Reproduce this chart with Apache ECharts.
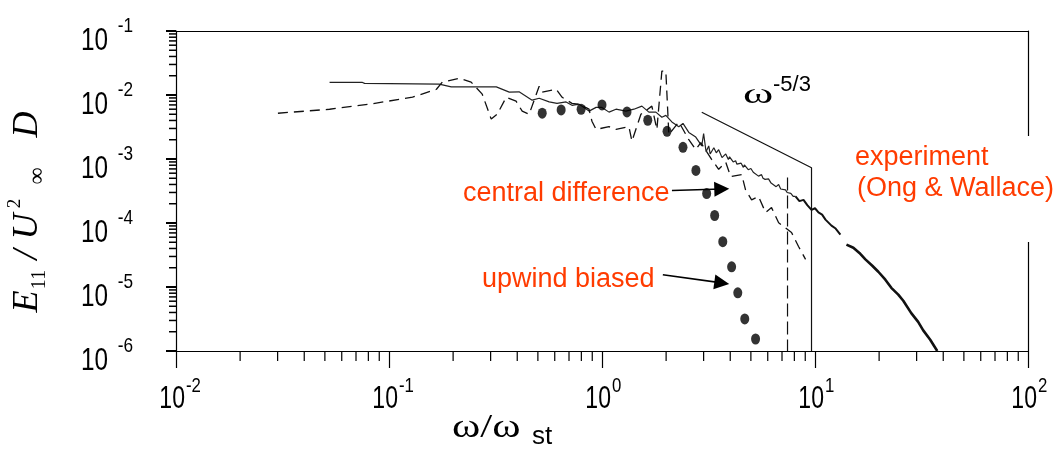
<!DOCTYPE html>
<html><head><meta charset="utf-8">
<script src="https://cdn.jsdelivr.net/npm/echarts@6/dist/echarts.min.js"></script>
<style>html,body{margin:0;padding:0;background:#fff}#c{width:1060px;height:450px}</style>
</head><body><div id="c"></div>
<script>
// ---- axis ranges & ticks ----
const xMin = 1e-2, xMax = 1e2, yMin = 1e-6, yMax = 1e-1;
const minorMultipliers = [2, 3, 4, 5, 6, 7, 8, 9];
const xDecades = [1e-2, 1e-1, 1, 10];
const yDecades = [1e-6, 1e-5, 1e-4, 1e-3, 1e-2];
const xTickVals = [1e-2, 1e-1, 1, 10, 100];
const yTickVals = [1e-6, 1e-5, 1e-4, 1e-3, 1e-2, 1e-1];

// ---- data ----
const simLine = [
  [0.0526, 0.0157], [0.0751, 0.0157], [0.0768, 0.0152], [0.172, 0.0148], [0.196, 0.0134],
  [0.319, 0.0134], [0.367, 0.0111], [0.408, 0.0112], [0.470, 0.0083], [0.507, 0.0089],
  [0.565, 0.0078], [0.615, 0.0074], [0.678, 0.0078], [0.723, 0.0069], [0.780, 0.0072],
  [0.869, 0.0056], [0.938, 0.0064], [1.0, 0.0064], [1.079, 0.0054], [1.163, 0.0060],
  [1.295, 0.0056], [1.412, 0.0060], [1.539, 0.0067], [1.660, 0.0054], [1.790, 0.0054],
  [1.910, 0.0045], [1.994, 0.0048], [2.128, 0.0038], [2.294, 0.0032], [2.40, 0.0036],
  [2.556, 0.0026], [2.755, 0.0022], [2.94, 0.0016], [3.00, 0.0025], [3.08, 0.0013],
  [3.17, 0.0016], [3.22, 0.0012], [3.35, 0.0015], [3.44, 0.00125], [3.53, 0.0014],
  [3.60, 0.0012], [3.66, 0.00105], [3.81, 0.0012], [3.92, 0.00098], [3.97, 0.00108],
  [4.13, 0.00090], [4.24, 0.00094], [4.30, 0.00083], [4.50, 0.00086], [4.61, 0.00074],
  [4.66, 0.00081], [4.86, 0.00068], [5.00, 0.00071], [5.13, 0.00062], [5.20, 0.00066],
  [5.43, 0.00054], [5.61, 0.00057], [5.70, 0.00050], [5.83, 0.00048], [6.05, 0.00049],
  [6.22, 0.00042], [6.30, 0.00045], [6.57, 0.00037], [6.75, 0.00040], [6.90, 0.00034],
  [7.27, 0.00033], [7.40, 0.00030], [7.70, 0.00029], [7.90, 0.00026], [8.10, 0.00026]
];
const expLineA = [
  [8.10, 0.00026], [8.45, 0.00022], [8.83, 0.00023], [9.20, 0.00019], [9.63, 0.00016],
  [10.0, 0.00017], [10.38, 0.000146], [10.8, 0.000135], [11.2, 0.000113], [11.95, 0.000091],
  [12.5, 0.000082], [13.16, 0.000066]
];
const expLineB = [
  [14.05, 4.6e-5], [15.14, 4.1e-5], [16.16, 3.4e-5], [17.24, 2.7e-5], [18.58, 2.15e-5],
  [19.83, 1.73e-5], [21.39, 1.30e-5], [22.82, 9.7e-6], [24.6, 7.6e-6], [25.97, 6.1e-6],
  [28.31, 3.9e-6], [30.5, 2.85e-6], [32.22, 2.1e-6], [34.75, 1.5e-6], [37.5, 1.0e-6]
];
const centralDiff = [
  [0.0301, 0.00519], [0.0526, 0.00599], [0.0811, 0.00718], [0.129, 0.00924], [0.167, 0.0123],
  [0.178, 0.0159], [0.214, 0.0183], [0.243, 0.0159], [0.274, 0.0103], [0.302, 0.0042],
  [0.322, 0.0050], [0.355, 0.0092], [0.395, 0.0080], [0.422, 0.0056], [0.455, 0.0050],
  [0.507, 0.0137], [0.524, 0.0111], [0.609, 0.0123], [0.650, 0.0092], [0.723, 0.0074],
  [0.780, 0.0072], [0.869, 0.0060], [0.897, 0.0039], [0.938, 0.0029], [1.079, 0.0032],
  [1.163, 0.0029], [1.338, 0.0032], [1.382, 0.0019], [1.523, 0.0050], [1.714, 0.0067],
  [1.81, 0.0029], [1.91, 0.0236], [1.994, 0.0236], [2.06, 0.0024], [2.294, 0.0038],
  [2.556, 0.0020], [2.755, 0.0014], [2.91, 0.0018], [3.27, 0.00099], [3.53, 0.00069],
  [3.81, 0.00089], [4.02, 0.00053], [4.53, 0.00057], [4.72, 0.00033], [5.04, 0.00023],
  [5.43, 0.00026], [5.86, 0.000146], [6.25, 0.000174], [6.75, 0.000101], [7.76, 7.1e-5],
  [8.37, 4.3e-5], [9.03, 2.7e-5]
];
const upwindDots = [
  [0.524, 0.00519], [0.643, 0.00584], [0.798, 0.00599], [1.0, 0.0070], [1.31, 0.00543],
  [1.64, 0.00403], [2.02, 0.00271], [2.40, 0.00152], [2.76, 0.000663], [3.10, 0.000289],
  [3.38, 0.000131], [3.69, 5.1e-5], [4.06, 2.07e-5], [4.34, 8.1e-6], [4.68, 3.17e-6],
  [5.26, 1.54e-6]
];
const cutoffDashed = [[7.43, 5.15e-4], [7.43, 1e-6]];
const slopeLine = [[2.94, 5.37e-3], [9.63, 7.3e-4], [9.63, 1e-6]];
const arrowCentral = [[2.13, 3.22e-4], [3.65, 3.4e-4]];
const arrowUpwind = [[1.93, 1.55e-5], [3.65, 1.16e-5]];

const RED = '#ff3b00';
const SANS = "'Liberation Sans', Arial, sans-serif";
const SERIF = "'Liberation Serif', 'Times New Roman', serif";

const xMinor = [], yMinor = [];
xDecades.forEach(d => minorMultipliers.forEach(m => xMinor.push([m * d, yMin])));
yDecades.forEach(d => minorMultipliers.forEach(m => yMinor.push([xMin, m * d])));
const xLabelData = xTickVals.map(v => [v, yMin]);
const yLabelData = yTickVals.map(v => [xMin, v]);
const expOf = v => String(Math.round(Math.log10(v)));

const chart = echarts.init(document.getElementById('c'), null, { renderer: 'canvas' });
const lineBase = { type: 'line', showSymbol: false, symbol: 'none', silent: true, animation: false };
const txt = (x, y, text, font, align, sx, sy) => ({ type: 'text', x, y, scaleX: sx || 1, scaleY: sy || 1,
  style: { text, font, align, verticalAlign: 'middle', fill: '#000' } });

chart.setOption({
  animation: false,
  backgroundColor: '#fff',
  grid: { left: 176, right: 32, top: 31, bottom: 99 },
  xAxis: [{
    type: 'log', logBase: 10, min: xMin, max: xMax,
    axisLine: { lineStyle: { color: '#000', width: 1.2 } },
    axisTick: { show: true, length: 17, lineStyle: { color: '#000', width: 1.2 } },
    splitLine: { show: false }, axisLabel: { show: false }
  }, {
    type: 'log', logBase: 10, min: xMin, max: xMax, position: 'top',
    axisLine: { show: true, onZero: false, lineStyle: { color: '#000', width: 1.2 } },
    axisTick: { show: false }, axisLabel: { show: false }, splitLine: { show: false }
  }],
  yAxis: [{
    type: 'log', logBase: 10, min: yMin, max: yMax,
    axisLine: { show: true, lineStyle: { color: '#000', width: 1.2 } },
    axisTick: { show: true, length: 10, lineStyle: { color: '#000', width: 2 } },
    splitLine: { show: false }, axisLabel: { show: false }
  }, {
    type: 'log', logBase: 10, min: yMin, max: yMax, position: 'right',
    axisLine: { show: true, onZero: false, lineStyle: { color: '#000', width: 1.2 } },
    axisTick: { show: false }, axisLabel: { show: false }, splitLine: { show: false }
  }],
  series: [
    { type: 'custom', data: xMinor, clip: false, silent: true, encode: { x: 0, y: 1 },
      renderItem: (p, api) => { const c = api.coord([api.value(0), api.value(1)]);
        return { type: 'line', shape: { x1: c[0], y1: c[1], x2: c[0], y2: c[1] + 10 }, style: { stroke: '#000', lineWidth: 1.2 } }; } },
    { type: 'custom', data: yMinor, clip: false, silent: true, encode: { x: 0, y: 1 },
      renderItem: (p, api) => { const c = api.coord([api.value(0), api.value(1)]);
        return { type: 'line', shape: { x1: c[0] - 7, y1: c[1], x2: c[0], y2: c[1] }, style: { stroke: '#000', lineWidth: 1.5 } }; } },
    { type: 'custom', data: yLabelData, clip: false, silent: true, encode: { x: 0, y: 1 },
      renderItem: (p, api) => { const c = api.coord([api.value(0), api.value(1)]);
        return { type: 'group', children: [
          txt(c[0] - 68, c[1] + 10, '10', '32px ' + SANS, 'right', 0.76),
          txt(c[0] - 43, c[1] - 5, expOf(api.value(1)), '21px ' + SANS, 'right', 0.82)
        ] }; } },
    { type: 'custom', data: xLabelData, clip: false, silent: true, encode: { x: 0, y: 1 },
      renderItem: (p, api) => { const c = api.coord([api.value(0), api.value(1)]);
        return { type: 'group', children: [
          txt(c[0] + 9, c[1] + 48, '10', '32px ' + SANS, 'right', 0.72),
          txt(c[0] + 10, c[1] + 35, expOf(api.value(0)), '21px ' + SANS, 'left', 0.8)
        ] }; } },
    Object.assign({}, lineBase, { name: 'sim', data: simLine, lineStyle: { color: '#222', width: 1.2 } }),
    Object.assign({}, lineBase, { name: 'expA', data: expLineA, lineStyle: { color: '#111', width: 2 } }),
    Object.assign({}, lineBase, { name: 'expB', data: expLineB, lineStyle: { color: '#111', width: 2.6 } }),
    Object.assign({}, lineBase, { name: 'central difference', data: centralDiff, lineStyle: { color: '#111', width: 1.3, type: [10, 6] } }),
    Object.assign({}, lineBase, { name: 'cutoff', data: cutoffDashed, lineStyle: { color: '#111', width: 1.2, type: [13, 5] } }),
    Object.assign({}, lineBase, { name: 'slope', data: slopeLine, lineStyle: { color: '#111', width: 1.2 } }),
    { type: 'scatter', name: 'upwind biased', data: upwindDots, symbol: 'circle', symbolSize: [9, 11],
      itemStyle: { color: '#000' }, silent: true, z: 5,
      markLine: { silent: true, symbol: ['none', 'triangle'], symbolSize: 15, animation: false,
        label: { show: false }, lineStyle: { color: '#000', width: 1.6, type: 'solid' },
        data: [
          [{ coord: arrowCentral[0] }, { coord: arrowCentral[1] }],
          [{ coord: arrowUpwind[0] }, { coord: arrowUpwind[1] }]
        ] } }
  ],
  graphic: [
    { type: 'rect', z: 100, shape: { x: 1018, y: 136, width: 24, height: 106 }, style: { fill: '#fff' } },
    { type: 'text', z: 101, x: 463, y: 194, style: { text: 'central difference', fill: RED, font: '27px ' + SANS, verticalAlign: 'middle' } },
    { type: 'text', z: 101, x: 482, y: 280, style: { text: 'upwind biased', fill: RED, font: '27px ' + SANS, verticalAlign: 'middle' } },
    { type: 'text', z: 101, x: 855, y: 158, style: { text: 'experiment', fill: RED, font: '27px ' + SANS, verticalAlign: 'middle' } },
    { type: 'text', z: 101, x: 857, y: 189, style: { text: '(Ong & Wallace)', fill: RED, font: '27px ' + SANS, verticalAlign: 'middle' } },
    { type: 'text', z: 101, x: 743, y: 95, scaleY: 0.65, style: { text: 'ω', fill: '#000', font: '46px ' + SERIF, verticalAlign: 'middle' } },
    { type: 'text', z: 101, x: 773, y: 85, style: { text: '-5/3', fill: '#000', font: '22px ' + SANS, verticalAlign: 'middle' } },
    { type: 'text', z: 101, x: 452, y: 428, scaleY: 0.78, style: { text: 'ω/ω', fill: '#000', font: '43px ' + SERIF, verticalAlign: 'middle' } },
    { type: 'text', z: 101, x: 532, y: 437, style: { text: 'st', fill: '#000', font: '26px ' + SANS, verticalAlign: 'middle' } },
    { type: 'text', z: 101, x: 28, y: 212, rotation: Math.PI / 2,
      style: { text: '{E|E}{s11|11}{sl|/}{U|U}{s2|2}{inf|∞}{D|D}', align: 'center', verticalAlign: 'middle',
        rich: {
          E: { fontFamily: SERIF, fontStyle: 'italic', fontSize: 36, lineHeight: 44, width: 22, align: 'left', fill: '#000' },
          s11: { fontFamily: SERIF, fontSize: 20, lineHeight: 26, verticalAlign: 'bottom', width: 22, align: 'right', fill: '#000' },
          sl: { fontFamily: SERIF, fontStyle: 'italic', fontSize: 36, lineHeight: 44, width: 28, align: 'center', fill: '#000' },
          U: { fontFamily: SERIF, fontStyle: 'italic', fontSize: 36, lineHeight: 44, width: 28, align: 'right', fill: '#000' },
          s2: { fontFamily: SERIF, fontSize: 19, lineHeight: 26, verticalAlign: 'top', width: 18, align: 'center', fill: '#000' },
          inf: { fontFamily: SERIF, fontSize: 24, lineHeight: 26, verticalAlign: 'bottom', width: 27, align: 'right', fill: '#000' },
          D: { fontFamily: SERIF, fontStyle: 'italic', fontSize: 36, lineHeight: 44, width: 56, align: 'right', fill: '#000' }
        } } }
  ]
});
</script></body></html>
